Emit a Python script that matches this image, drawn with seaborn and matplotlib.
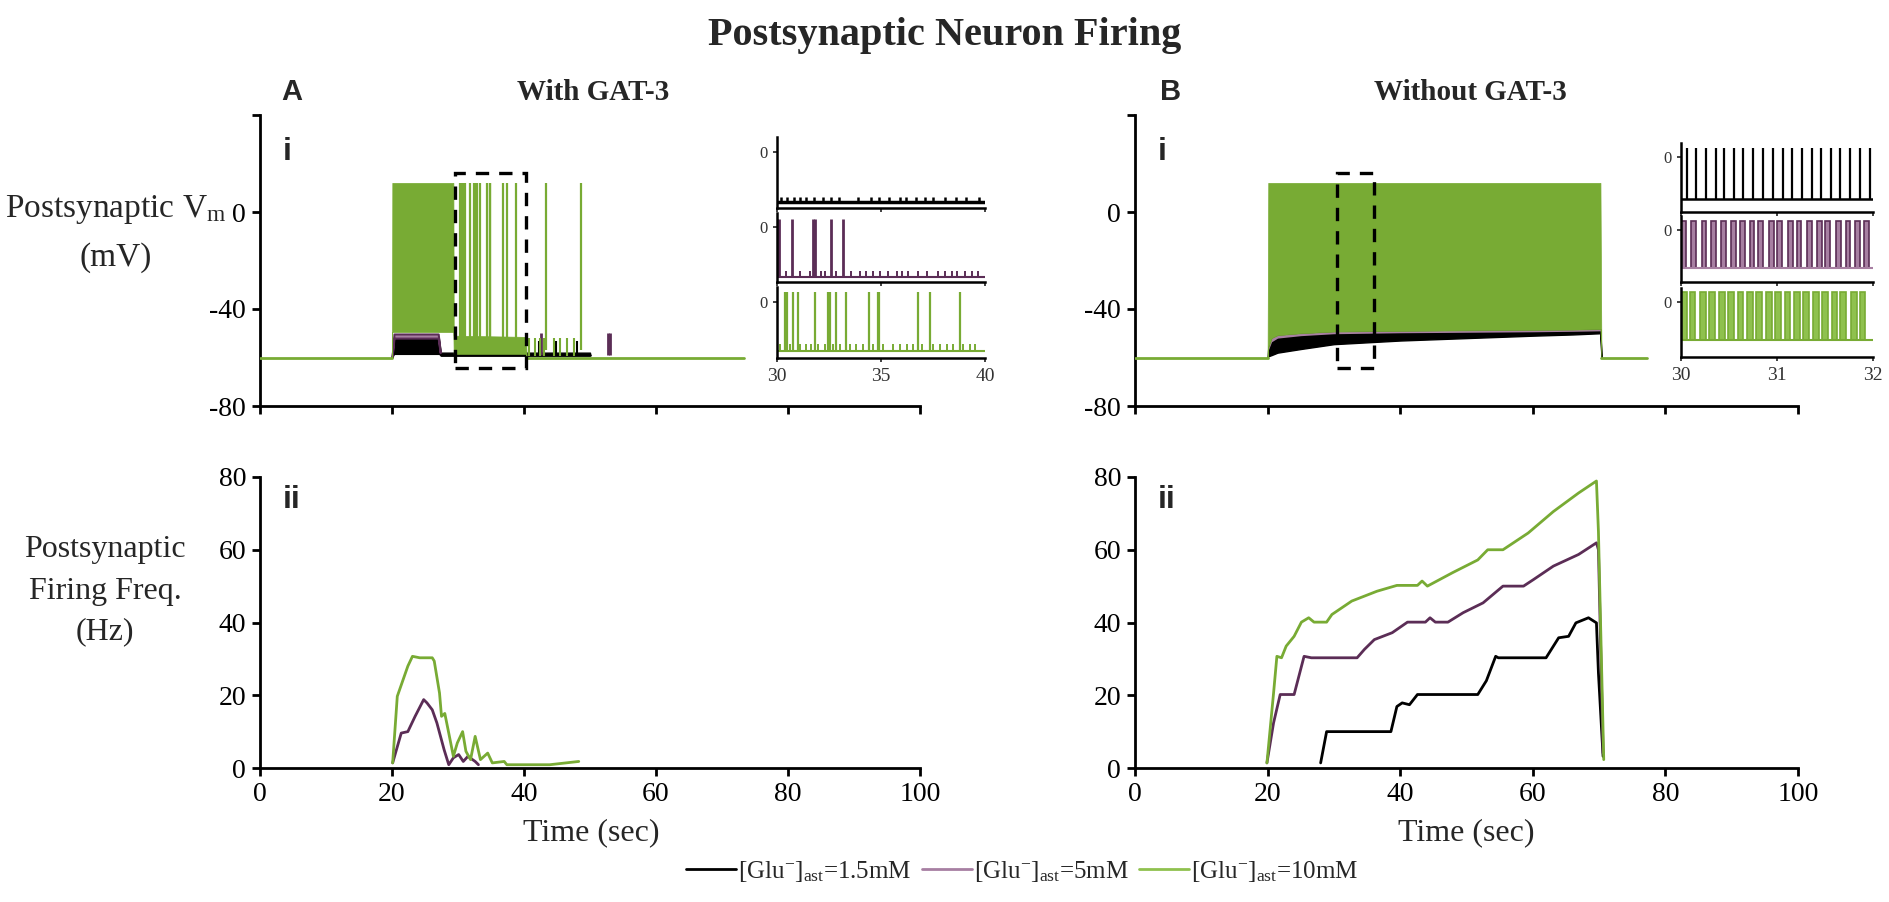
import matplotlib
matplotlib.use("Agg")
import matplotlib.pyplot as plt
from matplotlib.patches import Rectangle
from matplotlib.lines import Line2D
import seaborn as sns

sns.set_style("ticks")
plt.rcParams["font.family"] = ["Liberation Serif", "DejaVu Serif"]
plt.rcParams["mathtext.fontset"] = "custom"
plt.rcParams["mathtext.rm"] = "Liberation Serif"
plt.rcParams["mathtext.it"] = "Liberation Serif:italic"
plt.rcParams["axes.unicode_minus"] = False

BLACK = "#000000"
PURPLE = "#5b2d56"
GREEN = "#78ab34"
PURPLE_LIGHT = "#a77fa2"
GREEN_LIGHT = "#8fc14e"

# ─── DATA ───────────────────────────────────────────────────────────────────
# firing frequency (Hz) vs time (s), panel A ii (with GAT-3)
a_t_purple = [20.1, 21.4, 22.4, 23.5, 24.8, 25.3, 26.1, 26.8, 27.9, 28.6, 29.3,
              30.1, 30.8, 31.5, 32.6, 33.1]
a_f_purple = [1.4, 9.6, 10.0, 14.2, 18.8, 17.9, 16.0, 12.4, 5.0, 0.9, 2.8,
              3.7, 1.8, 3.2, 1.8, 0.9]
a_t_green = [20.1, 20.8, 22.4, 23.1, 24.2, 26.1, 26.4, 27.2, 27.5, 28.0, 28.6,
             29.3, 29.9, 30.7, 31.2, 31.9, 32.6, 33.4, 34.5, 35.2, 37.0, 37.4,
             43.9, 48.3]
a_f_green = [1.4, 19.7, 28.0, 30.7, 30.3, 30.3, 29.4, 20.6, 14.2, 15.0, 9.6,
             3.2, 6.9, 10.0, 4.6, 2.3, 8.7, 2.3, 4.1, 1.4, 1.8, 0.9,
             0.9, 1.8]

# panel B ii (without GAT-3)
b_t_black = [28.0, 28.9, 38.6, 39.5, 40.3, 41.4, 42.6, 51.7, 53.0, 54.4, 54.8,
             62.0, 63.9, 65.4, 66.5, 68.4, 69.6, 69.9, 70.6]
b_f_black = [1.4, 10.0, 10.0, 16.9, 17.9, 17.4, 20.2, 20.2, 24.0, 30.7, 30.3,
             30.3, 35.8, 36.2, 39.9, 41.3, 39.9, 26.1, 3.2]
b_t_purple = [19.9, 20.9, 21.9, 24.0, 25.5, 26.6, 33.5, 34.6, 36.1, 38.8, 41.1,
              43.8, 44.5, 45.3, 47.2, 49.5, 52.5, 55.5, 58.6, 60.1, 63.1, 66.9,
              69.6, 69.9, 70.6]
b_f_purple = [1.4, 12.4, 20.2, 20.2, 30.7, 30.3, 30.3, 32.6, 35.3, 37.2, 40.1,
              40.1, 41.3, 40.1, 40.1, 42.7, 45.4, 50.0, 50.0, 51.8, 55.5, 58.7,
              61.9, 60.0, 4.1]
b_t_green = [19.9, 20.9, 21.4, 22.1, 22.8, 24.0, 25.1, 26.2, 27.0, 28.9, 29.7,
             32.7, 36.5, 39.5, 42.6, 43.3, 44.1, 47.9, 51.7, 53.2, 55.5, 59.3,
             63.1, 66.9, 69.6, 69.9, 70.7]
b_f_green = [1.4, 20.6, 30.7, 30.3, 33.5, 36.2, 40.1, 41.3, 40.1, 40.1, 42.2,
             45.9, 48.6, 50.2, 50.2, 51.4, 50.0, 53.7, 57.2, 60.0, 60.0, 64.6,
             70.5, 75.6, 78.9, 65.0, 2.3]

# membrane potential (mV): resting level, spike peak, trace end times
v_rest = -60
v_peak = 12
a_trace_end = 73.3
b_trace_end = 77.2

# panel A i envelopes (time, lower, upper)
a_black_env_t = [20.0, 20.3, 27.1, 27.4, 50.0]
a_black_env_lo = [-60, -58.5, -58.5, -59.0, -59.0]
a_black_env_hi = [-60, -52.0, -52.0, -58.0, -58.0]
a_black_bumps = [42.2, 44.8, 48.1]
a_purple_env_t = [20.0, 20.3, 27.0, 27.3]
a_purple_env_lo = [-60, -52.0, -52.0, -58.0]
a_purple_env_hi = [-60, -50.3, -50.3, -58.0]
a_purple_bumps = [42.6, 52.8, 53.1]
a_green_env_t = [20.0, 20.05, 29.3, 29.35, 40.3, 40.4]
a_green_env_lo = [-60, -49.5, -49.5, -58.5, -58.5, -60]
a_green_env_hi = [-60, 12.0, 12.0, -51.0, -51.5, -60]
a_green_bumps = [40.8, 41.6, 42.4, 43.0, 44.6, 45.5, 46.5, 47.5]
a_green_spikes = [30.37, 30.48, 30.77, 31.01, 31.81, 32.46, 32.54, 32.83, 33.34,
                  34.43, 34.86, 34.91, 36.79, 37.35, 38.80, 43.4, 48.7]

# panel B i envelopes
b_env_t = [20.0, 20.1, 20.6, 21.5, 25.0, 30.0, 40.0, 50.0, 60.0, 66.0, 70.2, 70.35]
b_black_lo = [-60, -59.5, -59.0, -58.0, -56.5, -54.5, -53.0, -52.0, -51.0, -50.5, -50.0, -60]
b_purple_lo = [-60, -57.0, -53.5, -52.0, -51.0, -50.2, -49.8, -49.6, -49.4, -49.2, -49.0, -60]
b_green_lo = [-60, -56.0, -52.0, -50.8, -50.0, -49.3, -49.0, -48.8, -48.6, -48.5, -48.3, -60]
b_green_hi = [-60, 12.0, 12.0, 12.0, 12.0, 12.0, 12.0, 12.0, 12.0, 12.0, 12.0, -60]

# zoom windows marked by the dashed boxes (time range, mV range)
a_zoom_t = (29.6, 40.3)
b_zoom_t = (30.4, 36.0)
zoom_v = (-64.5, 16.0)

# inset A: 30-40 s
ia_black_bumps = [30.2, 30.5, 30.8, 31.1, 31.4, 31.8, 32.2, 32.6, 33.0, 33.9, 34.5,
                  34.9, 35.4, 35.9, 36.2, 36.7, 37.1, 37.5, 38.1, 38.6, 39.1, 39.7]
ia_purple_spikes = [30.02, 30.10, 30.74, 31.73, 31.81, 32.62, 33.15]
ia_purple_bumps = [30.45, 31.09, 31.57, 32.13, 32.29, 32.86, 33.58, 34.01, 34.30,
                   34.62, 34.94, 35.35, 35.75, 35.99, 36.31, 36.79, 37.19, 37.75,
                   38.07, 38.39, 38.64, 39.04, 39.36, 39.68]
ia_green_bumps = [30.13, 30.61, 31.09, 31.41, 31.65, 31.97, 32.30, 32.70, 33.02,
                  33.50, 33.82, 34.14, 34.62, 35.10, 35.59, 35.91, 36.23, 36.55,
                  36.95, 37.51, 37.83, 38.15, 38.48, 38.96, 39.28, 39.52]
ia_base = {"black": -58.5, "purple": -59.5, "green": -58.0}

# inset B: 30-32 s
ib_black_spikes = [30.06, 30.16, 30.26, 30.36, 30.45, 30.55, 30.65, 30.75, 30.85,
                   30.96, 31.06, 31.16, 31.26, 31.36, 31.46, 31.56, 31.66, 31.76,
                   31.86, 31.97]
ib_purple_bursts = [30.03, 30.13, 30.24, 30.34, 30.44, 30.55, 30.64, 30.74, 30.83,
                    30.94, 31.03, 31.14, 31.23, 31.34, 31.44, 31.53, 31.64, 31.74,
                    31.84, 31.93]
ib_green_bursts = [30.03, 30.12, 30.23, 30.32, 30.43, 30.52, 30.62, 30.72, 30.81,
                   30.92, 31.01, 31.11, 31.21, 31.30, 31.41, 31.50, 31.60, 31.69,
                   31.80, 31.89]
ib_trough = {"black": -50.0, "purple": -49.0, "green": -45.5}

legend_labels = [r"[Glu$^{-}$]$_{\mathrm{ast}}$=1.5mM",
                 r"[Glu$^{-}$]$_{\mathrm{ast}}$=5mM",
                 r"[Glu$^{-}$]$_{\mathrm{ast}}$=10mM"]

# ─── LAYOUT ─────────────────────────────────────────────────────────────────
W, H = 1890, 902
fig = plt.figure(figsize=(W / 100, H / 100), dpi=100)


def rect(x0, y0, x1, y1):
    return [x0 / W, 1 - y1 / H, (x1 - x0) / W, (y1 - y0) / H]


def style_main(ax, ylim, yticks, ylabels, xlabels):
    ax.set_xlim(0, 100)
    ax.set_ylim(*ylim)
    ax.set_xticks(range(0, 101, 20))
    ax.set_yticks(yticks)
    ax.set_yticklabels(ylabels)
    if not xlabels:
        ax.set_xticklabels([])
    ax.tick_params(labelsize=20, length=6, width=2, direction="out", pad=4,
                   colors=BLACK)
    sns.despine(ax=ax)
    for s in ["left", "bottom"]:
        ax.spines[s].set_linewidth(2)
        ax.spines[s].set_color(BLACK)
    ax.set_xlabel("")
    ax.set_ylabel("")


def style_inset(ax, xlim, xticks, xlabels):
    ax.set_xlim(*xlim)
    ax.set_ylim(-66, 17)
    ax.set_xticks(xticks)
    ax.set_yticks([0])
    ax.set_yticklabels(["0"])
    if not xlabels:
        ax.set_xticklabels([])
    ax.tick_params(labelsize=14, length=3, width=1.3, pad=4, colors="#333333")
    ax.tick_params(axis="y", labelsize=12)
    sns.despine(ax=ax)
    for s in ["left", "bottom"]:
        ax.spines[s].set_linewidth(1.8)
        ax.spines[s].set_color(BLACK)
    ax.patch.set_alpha(0)


ax_ai = fig.add_axes(rect(260, 115, 920, 406))
ax_aii = fig.add_axes(rect(260, 477, 920, 768))
ax_bi = fig.add_axes(rect(1135, 115, 1798, 406))
ax_bii = fig.add_axes(rect(1135, 477, 1798, 768))

# ─── A i: membrane potential with GAT-3 ─────────────────────────────────────
ax = ax_ai
ax.fill_between(a_black_env_t, a_black_env_lo, a_black_env_hi, color=BLACK, lw=1, zorder=2)
ax.plot([a_black_env_t[-2], a_black_env_t[-1]], [a_black_env_lo[-1]] * 2, color=BLACK, lw=2, zorder=2)
ax.vlines(a_black_bumps, a_black_env_lo[-1], -53, color=BLACK, lw=1.5, zorder=2)
ax.fill_between(a_purple_env_t, a_purple_env_lo, a_purple_env_hi, color=PURPLE_LIGHT, lw=1.5,
                edgecolor=PURPLE, zorder=3)
ax.vlines(a_purple_bumps, -59, -50, color=PURPLE, lw=2, zorder=3)
ax.plot([0, a_black_env_t[0]], [v_rest] * 2, color=GREEN, lw=2, zorder=4)
ax.plot([a_green_env_t[-1], a_trace_end], [v_rest] * 2, color=GREEN, lw=2, zorder=4)
ax.fill_between(a_green_env_t, a_green_env_lo, a_green_env_hi, color=GREEN, lw=0.5, zorder=4)
ax.vlines(a_green_bumps, -59.5, -52, color=GREEN, lw=1.5, zorder=4)
ax.vlines(a_green_spikes, -57, v_peak, color=GREEN, lw=1.6, zorder=4)
ax.add_patch(Rectangle((a_zoom_t[0], zoom_v[0]), a_zoom_t[1] - a_zoom_t[0],
                       zoom_v[1] - zoom_v[0], fill=False, ec=BLACK, lw=2.4,
                       ls=(0, (4, 3)), zorder=6, clip_on=False))
style_main(ax, (-80, 40), [-80, -40, 0, 40], ["-80", "-40", "0", ""], False)

# ─── B i: membrane potential without GAT-3 ──────────────────────────────────
ax = ax_bi
ax.fill_between(b_env_t, b_black_lo, b_green_lo, color=BLACK, lw=1, zorder=2)
ax.fill_between(b_env_t, b_purple_lo, b_green_lo, color=PURPLE_LIGHT, lw=0, zorder=3)
ax.plot([0, b_env_t[0]], [v_rest] * 2, color=GREEN, lw=2, zorder=4)
ax.plot([b_env_t[-1], b_trace_end], [v_rest] * 2, color=GREEN, lw=2, zorder=4)
ax.fill_between(b_env_t, b_green_lo, b_green_hi, color=GREEN, lw=0.5, zorder=4)
ax.add_patch(Rectangle((b_zoom_t[0], zoom_v[0]), b_zoom_t[1] - b_zoom_t[0],
                       zoom_v[1] - zoom_v[0], fill=False, ec=BLACK, lw=2.4,
                       ls=(0, (4, 3)), zorder=6, clip_on=False))
style_main(ax, (-80, 40), [-80, -40, 0, 40], ["-80", "-40", "0", ""], False)

# ─── ii: firing frequency ───────────────────────────────────────────────────
sns.lineplot(x=a_t_purple, y=a_f_purple, ax=ax_aii, color=PURPLE, lw=2,
             estimator=None, sort=False)
sns.lineplot(x=a_t_green, y=a_f_green, ax=ax_aii, color=GREEN, lw=2,
             estimator=None, sort=False)
style_main(ax_aii, (0, 80), [0, 20, 40, 60, 80], ["0", "20", "40", "60", "80"], True)

sns.lineplot(x=b_t_black, y=b_f_black, ax=ax_bii, color=BLACK, lw=2,
             estimator=None, sort=False)
sns.lineplot(x=b_t_purple, y=b_f_purple, ax=ax_bii, color=PURPLE, lw=2,
             estimator=None, sort=False)
sns.lineplot(x=b_t_green, y=b_f_green, ax=ax_bii, color=GREEN, lw=2,
             estimator=None, sort=False)
style_main(ax_bii, (0, 80), [0, 20, 40, 60, 80], ["0", "20", "40", "60", "80"], True)

# ─── insets ─────────────────────────────────────────────────────────────────
ia = [fig.add_axes(rect(777, 137, 985, 208)),
      fig.add_axes(rect(777, 213, 985, 282)),
      fig.add_axes(rect(777, 287, 985, 358))]
ia[0].plot([30, 40], [ia_base["black"]] * 2, color=BLACK, lw=2.5)
ia[0].vlines(ia_black_bumps, ia_base["black"], -53, color=BLACK, lw=1.8)
ia[1].plot([30, 40], [ia_base["purple"]] * 2, color=PURPLE, lw=1.5)
ia[1].vlines(ia_purple_bumps, ia_base["purple"], -53, color=PURPLE, lw=1.4)
ia[1].vlines(ia_purple_spikes, ia_base["purple"], 10, color=PURPLE, lw=2)
ia[2].plot([30, 40], [ia_base["green"]] * 2, color=GREEN, lw=1.5)
ia[2].vlines(ia_green_bumps, ia_base["green"], -50, color=GREEN, lw=1.4)
ia[2].vlines(a_green_spikes[:15], ia_base["green"], 11, color=GREEN, lw=1.6)
for k, a in enumerate(ia):
    style_inset(a, (30, 40), [30, 35, 40], k == 2)

ib = [fig.add_axes(rect(1681, 143, 1873, 212)),
      fig.add_axes(rect(1681, 216, 1873, 282)),
      fig.add_axes(rect(1681, 288, 1873, 357))]
ib[0].plot([30, 32], [ib_trough["black"]] * 2, color=BLACK, lw=1.8)
ib[0].vlines(ib_black_spikes, ib_trough["black"], 11, color=BLACK, lw=1.6)
ib[1].bar(ib_purple_bursts, 11 - ib_trough["purple"], bottom=ib_trough["purple"],
          width=0.05, color=PURPLE_LIGHT, edgecolor=PURPLE, lw=1.2)
ib[1].plot([30, 32], [ib_trough["purple"]] * 2, color=PURPLE_LIGHT, lw=1.5)
ib[2].bar(ib_green_bursts, 12 - ib_trough["green"], bottom=ib_trough["green"],
          width=0.06, color=GREEN_LIGHT, edgecolor=GREEN, lw=1.2)
ib[2].plot([30, 32], [ib_trough["green"]] * 2, color=GREEN, lw=1.5)
for k, a in enumerate(ib):
    style_inset(a, (30, 32), [30, 31, 32], k == 2)

# ─── text ───────────────────────────────────────────────────────────────────
fig.text(0.5, 1 - 36 / H, "Postsynaptic Neuron Firing", ha="center", va="center",
         fontsize=29, fontweight="bold")
sans_bold = dict(family=["Liberation Sans", "DejaVu Sans"], fontweight="bold")
fig.text(281 / W, 1 - 92 / H, "A", ha="left", va="center", fontsize=21, **sans_bold)
fig.text(1160 / W, 1 - 92 / H, "B", ha="left", va="center", fontsize=21, **sans_bold)
fig.text(593 / W, 1 - 92 / H, "With GAT-3", ha="center", va="center", fontsize=21,
         fontweight="bold")
fig.text(1470 / W, 1 - 92 / H, "Without GAT-3", ha="center", va="center", fontsize=21,
         fontweight="bold")
for x0 in (283, 1158):
    fig.text(x0 / W, 1 - 152 / H, "i", ha="left", va="center", fontsize=23, **sans_bold)
    fig.text(x0 / W, 1 - 500 / H, "ii", ha="left", va="center", fontsize=23, **sans_bold)

fig.text(116 / W, 1 - 210 / H, r"Postsynaptic V$_{\mathrm{m}}$", ha="center",
         va="center", fontsize=24)
fig.text(116 / W, 1 - 258 / H, "(mV)", ha="center", va="center", fontsize=24)
for yy, s in zip((550, 592, 632), ("Postsynaptic", "Firing Freq.", "(Hz)")):
    fig.text(105 / W, 1 - yy / H, s, ha="center", va="center", fontsize=23)
for xx in (591, 1466):
    fig.text(xx / W, 1 - 833 / H, "Time (sec)", ha="center", va="center", fontsize=23)

handles = [Line2D([], [], color=c, lw=2) for c in (BLACK, PURPLE_LIGHT, GREEN_LIGHT)]
fig.legend(handles, legend_labels, loc="center", bbox_to_anchor=(1022 / W, 1 - 871 / H),
           ncol=3, frameon=False, fontsize=18, handlelength=2.0, handletextpad=0.1,
           columnspacing=0.4)

fig.savefig("out.png", dpi=100, facecolor="white")
